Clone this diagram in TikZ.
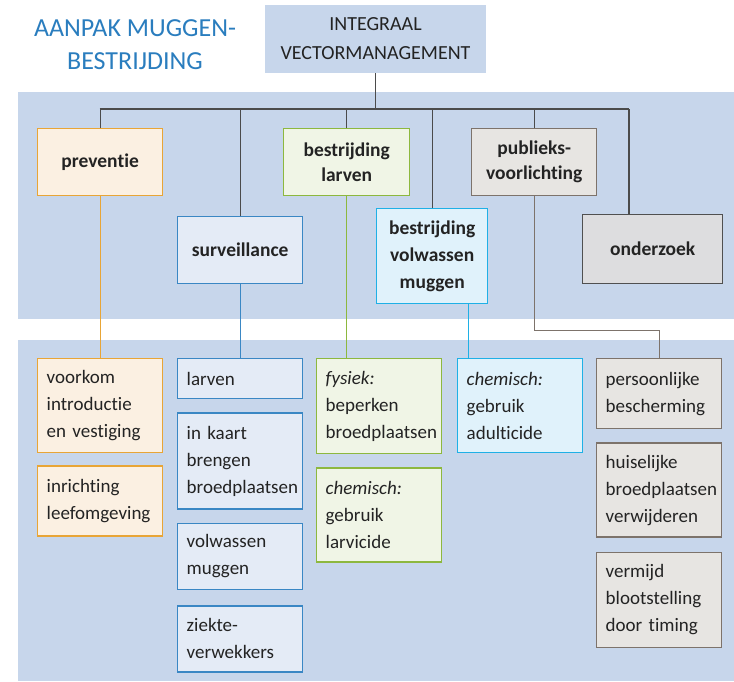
\documentclass[tikz,border=0pt]{standalone}
\usepackage{fontspec}
\setmainfont{Carlito}[Ligatures=NoCommon]
\usetikzlibrary{positioning}
\definecolor{bandblue}{RGB}{199,214,235}
\definecolor{titleblue}{RGB}{42,125,190}
\definecolor{textdark}{RGB}{35,35,35}
\definecolor{busgray}{RGB}{75,75,75}
\definecolor{orfill}{RGB}{251,240,226}
\definecolor{orline}{RGB}{232,165,54}
\definecolor{blfill}{RGB}{228,235,246}
\definecolor{blline}{RGB}{58,135,196}
\definecolor{grfill}{RGB}{240,245,230}
\definecolor{grline}{RGB}{141,184,62}
\definecolor{cyfill}{RGB}{224,242,251}
\definecolor{cyline}{RGB}{31,176,230}
\definecolor{gyfill}{RGB}{231,229,226}
\definecolor{gyline}{RGB}{125,115,107}
\definecolor{dkfill}{RGB}{221,221,223}
\definecolor{dkline}{RGB}{80,80,80}
\tikzset{
  cat/.style={draw, line width=1.4pt, anchor=north west, align=center, inner sep=0pt, text=textdark, font=\bfseries\fontsize{19.5}{25}\selectfont},
  item/.style={draw, line width=1.4pt, anchor=north west, align=left, inner xsep=9pt, inner ysep=0pt, text width=107pt, minimum width=125pt, text=textdark, font=\fontsize{19}{27}\selectfont},
  prevc/.style={draw=orline, fill=orfill},
  survc/.style={draw=blline, fill=blfill},
  larc/.style={draw=grline, fill=grfill},
  volc/.style={draw=cyline, fill=cyfill},
  pubc/.style={draw=gyline, fill=gyfill},
  ondc/.style={draw=dkline, fill=dkfill},
  bus/.style={draw=busgray, line width=1.3pt},
  link/.style={line width=1.3pt}
}
\begin{document}
\begin{tikzpicture}[x=1pt,y=-1pt]
\useasboundingbox (0,0) rectangle (734,681);
\fill[bandblue] (18,92) rectangle (734,319);
\fill[bandblue] (18,340) rectangle (734,681);
\node[text=titleblue, align=center, font=\fontsize{26}{33}\selectfont] (titel) at (135,45) {AANPAK MUGGEN-\\BESTRIJDING};
\node[fill=bandblue, align=center, inner sep=0pt, minimum width=221pt, minimum height=68pt, text=textdark, font=\fontsize{20}{29}\selectfont] (top) at (375.5,39) {INTEGRAAL\\VECTORMANAGEMENT};
\node[cat, prevc, minimum width=125pt, minimum height=67pt] (prev) at (37,128) {preventie};
\node[cat, survc, minimum width=125pt, minimum height=67pt] (surv) at (177,216) {surveillance};
\node[cat, larc, minimum width=126pt, minimum height=67pt] (larv) at (283,128) {bestrijding\\larven};
\node[cat, volc, minimum width=111pt, minimum height=95pt, font=\bfseries\fontsize{19.5}{27}\selectfont] (volw) at (376,208) {bestrijding\\volwassen\\muggen};
\node[cat, pubc, minimum width=125pt, minimum height=67pt] (publ) at (471,128) {publieks-\\voorlichting};
\node[cat, ondc, minimum width=140pt, minimum height=69pt] (onde) at (582,214) {onderzoek};
\node[item, prevc, minimum height=94pt] (voork) at (37,358) {voorkom\\introductie\\en vestiging};
\node[item, prevc, minimum height=70pt, below=12pt of voork] (inri) {inrichting\\leefomgeving};
\node[item, survc, minimum height=40pt] (ilarv) at (177,358) {larven};
\node[item, survc, minimum height=96pt, below=13pt of ilarv] (kaart) {in kaart\\brengen\\broedplaatsen};
\node[item, survc, minimum height=66pt, below=13pt of kaart] (imug) {volwassen\\muggen};
\node[item, survc, minimum height=66pt, below=15pt of imug] (ziek) {ziekte-\\verwekkers};
\node[item, larc, minimum height=95pt] (fysk) at (316,358) {\textit{fysiek:}\\beperken\\broedplaatsen};
\node[item, larc, minimum height=94pt, below=13pt of fysk] (chml) {\textit{chemisch:}\\gebruik\\larvicide};
\node[item, volc, minimum height=94pt] (chmv) at (457,358) {\textit{chemisch:}\\gebruik\\adulticide};
\node[item, pubc, minimum height=70pt] (pers) at (596,358) {persoonlijke\\bescherming};
\node[item, pubc, minimum height=94pt, below=13pt of pers] (huis) {huiselijke\\broedplaatsen\\verwijderen};
\node[item, pubc, minimum height=95pt, below=14pt of huis] (verm) {vermijd\\blootstelling\\door timing};
\coordinate (busl) at (99.5,109);
\coordinate (busr) at (629,109);
\draw[bus] (busl) -- (busr);
\draw[bus] (top.south) -- (top.south |- busl);
\draw[bus] (prev.north) -- (prev.north |- busl);
\draw[bus] (surv.north) -- (surv.north |- busl);
\draw[bus] (larv.north) -- (larv.north |- busl);
\draw[bus] (volw.north) -- (volw.north |- busl);
\draw[bus] (publ.north) -- (publ.north |- busl);
\draw[bus] (busr) -- (busr |- onde.north);
\draw[link, orline] (prev.south) -- (voork.north);
\draw[link, blline] (surv.south) -- (ilarv.north);
\draw[link, grline] (larv.south) -- (larv.south |- fysk.north);
\coordinate (volx) at ([xshift=36.5pt]volw.south);
\draw[link, cyline] (volx) -- (volx |- chmv.north);
\draw[link, gyline] (publ.south) -- ++(0,134) -| (pers.north);
\end{tikzpicture}
\end{document}
